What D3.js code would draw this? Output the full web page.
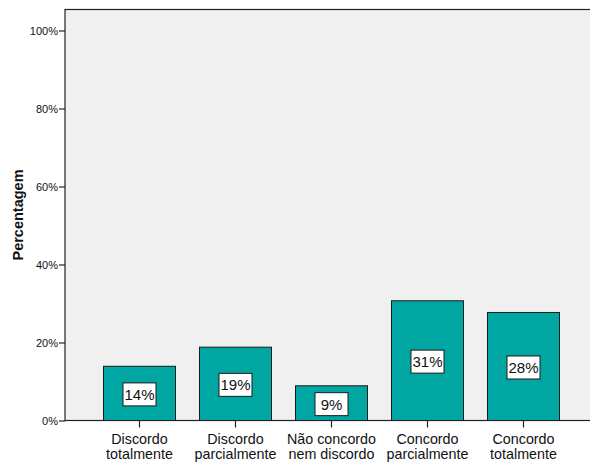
<!DOCTYPE html>
<html><head><meta charset="utf-8">
<script src="https://cdn.jsdelivr.net/npm/d3@7"></script>
<style>body{margin:0;background:#fff}svg{display:block}</style>
</head><body>
<script>
const categories = [["Discordo","totalmente"],["Discordo","parcialmente"],["Não concordo","nem discordo"],["Concordo","parcialmente"],["Concordo","totalmente"]];
const values = [13.9, 18.8, 8.9, 30.7, 27.7];
const labels = ["14%","19%","9%","31%","28%"];
const yTicks = [0,20,40,60,80,100];

(function(){
const W=590,H=464;
const svg=d3.select("body").append("svg").attr("width",W).attr("height",H)
  .style("font-family","Arial, 'Liberation Sans', sans-serif");
const pL=65, pT=9.5, pB=420.5, pR=598;
const x=d3.scaleBand().domain(d3.range(categories.length)).range([91.5,571.5]).paddingInner(0.25).paddingOuter(0.125);
const y=d3.scaleLinear().domain([0,100]).range([pB,30.5]);

svg.append("rect").attr("x",pL).attr("y",pT).attr("width",pR-pL).attr("height",pB-pT)
  .attr("fill","#f0f0f0").attr("stroke","#222").attr("stroke-width",1.2);

svg.selectAll("rect.bar").data(values).join("rect").attr("class","bar")
  .attr("x",(d,i)=>x(i)).attr("width",x.bandwidth())
  .attr("y",d=>y(d)).attr("height",d=>pB-y(d))
  .attr("fill","#00a6a1").attr("stroke","#1a1a1a").attr("stroke-width",1);

const lg=svg.selectAll("g.lbl").data(values).join("g").attr("class","lbl")
  .attr("transform",(d,i)=>`translate(${x(i)+x.bandwidth()/2},${(y(d)+pB)/2+1})`);
lg.append("rect").attr("x",-16.5).attr("y",-11.5).attr("width",33).attr("height",23)
  .attr("fill","#fff").attr("stroke","#1a1a1a").attr("stroke-width",1);
lg.append("text").attr("text-anchor","middle").attr("dy","0.36em").attr("font-size",15)
  .attr("fill","#111").text((d,i)=>labels[i]);

const ya=svg.append("g").attr("transform",`translate(${pL},0)`)
  .call(d3.axisLeft(y).tickValues(yTicks).tickSize(6).tickFormat(d=>d+"%"));
ya.select(".domain").remove();
ya.selectAll("line").attr("stroke","#222").attr("stroke-width",1.2);
ya.selectAll("text").attr("font-size",11).attr("fill","#111").attr("x",-7).attr("font-family","Arial, 'Liberation Sans', sans-serif");

svg.append("line").attr("x1",pL).attr("x2",pR).attr("y1",pB).attr("y2",pB).attr("stroke","#222").attr("stroke-width",1.2);

const xa=svg.append("g");
categories.forEach((c,i)=>{
  const cx=x(i)+x.bandwidth()/2;
  xa.append("line").attr("x1",cx).attr("x2",cx).attr("y1",pB).attr("y2",pB+7).attr("stroke","#222").attr("stroke-width",1.2);
  const t=xa.append("text").attr("text-anchor","middle").attr("font-size",14.3).attr("fill","#111");
  t.append("tspan").attr("x",cx).attr("y",444).text(c[0]);
  t.append("tspan").attr("x",cx).attr("y",459).text(c[1]);
});

svg.append("text").attr("transform",`translate(23,${(pT+pB)/2}) rotate(-90)`)
  .attr("text-anchor","middle").attr("font-size",14.5).attr("font-weight","bold").attr("fill","#111").text("Percentagem");
})();
</script>
</body></html>
